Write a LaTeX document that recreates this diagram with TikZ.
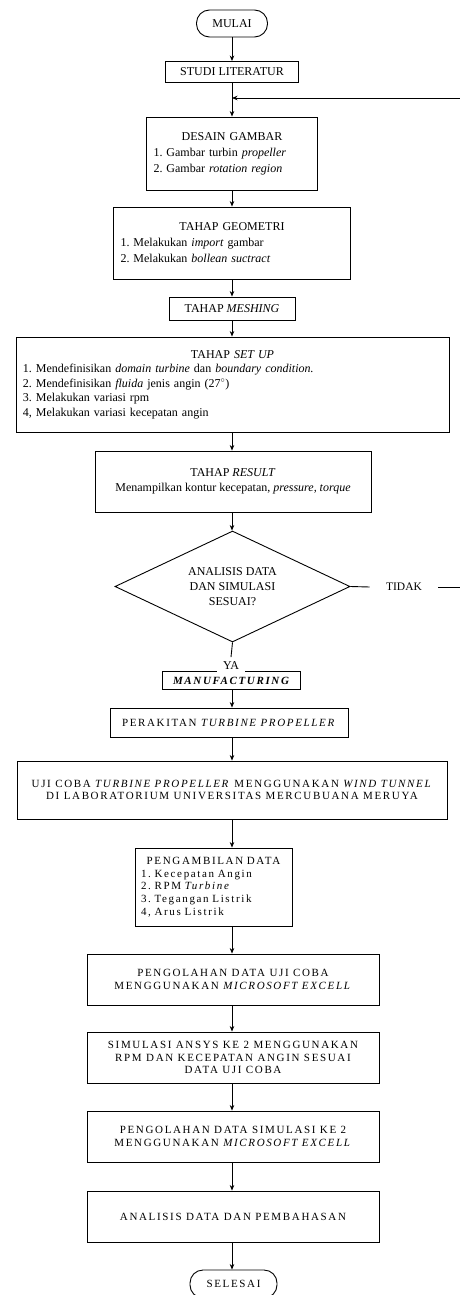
\documentclass[tikz,border=0pt]{standalone}
\usepackage{fontspec}
\setmainfont{Liberation Serif}
\newfontfamily\spacedfont[LetterSpace=15]{Liberation Serif}
\usetikzlibrary{shapes.geometric, arrows.meta, positioning}
\setlength{\parindent}{0pt}
\frenchspacing
\newcommand{\boxtitle}[1]{\hfill#1\hfill\null}

\begin{document}
\begin{tikzpicture}[
  x=1pt, y=-1pt, line width=0.9pt,
  proc/.style={draw, align=center, inner sep=3pt, font=\fontsize{12}{14.5}\selectfont},
  listbox/.style={proc, align=left, inner xsep=7pt, text width=#1},
  caps/.style={proc, font=\spacedfont\fontsize{11}{12.75}\selectfont},
  term/.style={draw, rounded corners=13pt, inner sep=2pt},
  cond/.style={draw, diamond, aspect=2.1, inner sep=0pt, align=center, font=\fontsize{12}{15}\selectfont},
  arr/.style={-{Stealth[length=5.5pt, width=4.5pt]}, line width=0.8pt},
]
  \useasboundingbox (0,0) rectangle (460,1295);
  \coordinate (flow) at (232, 0);

  % upper part: design and simulation
  \node[term, minimum width=71pt, minimum height=27pt, font=\fontsize{12}{14}\selectfont] (mulai) at (232, 23.5) {MULAI};
  \node[proc, minimum width=133pt, minimum height=21pt] (studi) at (232, 72) {STUDI LITERATUR};
  \node[listbox=157pt, minimum height=73pt, font=\fontsize{12}{16}\selectfont] (desain) at (232, 153.5) {
    \boxtitle{DESAIN GAMBAR}\\
    1. Gambar turbin \textit{propeller}\\
    2. Gambar \textit{rotation region}
  };
  \node[listbox=223pt, minimum height=72pt, font=\fontsize{12}{16}\selectfont] (geom) at (232, 243) {
    \boxtitle{TAHAP GEOMETRI}\\
    1. Melakukan \textit{import} gambar\\
    2. Melakukan \textit{bollean suctract}
  };
  \node[proc, minimum width=126pt, minimum height=23pt] (mesh) at (232, 308.5) {TAHAP \textit{MESHING}};
  \node[listbox=419pt, minimum height=95pt] (setup) at (232.5, 384.5) {
    \boxtitle{TAHAP \textit{SET UP}}\\
    1. Mendefinisikan \textit{domain turbine} dan \textit{boundary condition.}\\
    2. Mendefinisikan \textit{fluida} jenis angin (27$^{\circ}$)\\
    3. Melakukan variasi rpm\\
    4, Melakukan variasi kecepatan angin
  };
  \node[proc, minimum width=276pt, minimum height=61pt] (result) at (233, 481.5) {
    TAHAP \textit{RESULT}\\
    Menampilkan kontur kecepatan, \textit{pressure, torque}
  };
  \node[cond, minimum width=235pt, minimum height=111pt] (dec) at (232.5, 586.5) {ANALISIS DATA\\DAN SIMULASI\\SESUAI?};
  \node[inner xsep=16pt, font=\fontsize{11.5}{14}\selectfont] (tidak) at (404, 587) {TIDAK};

  % lower part: manufacturing and testing
  \node[caps, minimum width=138pt, minimum height=18pt, font=\spacedfont\fontsize{11}{12}\selectfont\bfseries\itshape] (manuf) at (231, 680.5) {MANUFACTURING};
  \node[fill=white, inner xsep=6pt, inner ysep=4pt, font=\fontsize{12}{14}\selectfont] (ya) at (231, 665.5) {YA};
  \node[caps, minimum width=238pt, minimum height=29pt] (rakit) at (229, 722.5) {PERAKITAN \textit{TURBINE PROPELLER}};
  \node[caps, minimum width=430pt, minimum height=58pt] (uji) at (232, 790) {
    UJI COBA \textit{TURBINE PROPELLER} MENGGUNAKAN \textit{WIND TUNNEL}\\
    DI LABORATORIUM UNIVERSITAS MERCUBUANA MERUYA
  };
  \node[listbox=145pt, inner xsep=6pt, minimum height=78pt, font=\spacedfont\fontsize{11}{12.75}\selectfont] (ambil) at (213.5, 887) {
    \boxtitle{PENGAMBILAN DATA}\\
    1. Kecepatan Angin\\
    2. RPM \textit{Turbine}\\
    3. Tegangan Listrik\\
    4, Arus Listrik
  };
  \node[caps, minimum width=292pt, minimum height=51pt] (olah) at (233, 979.5) {
    PENGOLAHAN DATA UJI COBA\\
    MENGGUNAKAN \textit{MICROSOFT EXCELL}
  };
  \node[caps, minimum width=292pt, minimum height=51pt] (sim) at (233, 1057.5) {
    SIMULASI ANSYS KE 2 MENGGUNAKAN\\
    RPM DAN KECEPATAN ANGIN SESUAI\\
    DATA UJI COBA
  };
  \node[caps, minimum width=292pt, minimum height=51pt] (olahsim) at (233, 1136.5) {
    PENGOLAHAN DATA SIMULASI KE 2\\
    MENGGUNAKAN \textit{MICROSOFT EXCELL}
  };
  \node[caps, minimum width=292pt, minimum height=51pt] (bahas) at (233, 1216.5) {ANALISIS DATA DAN PEMBAHASAN};
  \node[term, minimum width=87pt, minimum height=28pt, font=\spacedfont\fontsize{11}{12}\selectfont] (selesai) at (233.5, 1284) {SELESAI};

  % connectors
  \foreach \a/\b in {mulai/studi, studi/desain, desain/geom, geom/mesh, mesh/setup, setup/result, result/dec,
                     manuf/rakit, rakit/uji, uji/ambil, ambil/olah, olah/sim, sim/olahsim, olahsim/bahas, bahas/selesai}
    \draw[arr] (\a.south -| flow) -- (\b.north -| flow);
  \draw (dec.south) -- (ya.north);

  % loop back when not suitable
  \coordinate (join) at (232, 98);
  \coordinate (edge) at (464, 98);
  \draw (dec.east) -- (tidak.west);
  \draw[arr] (tidak.east) -- (tidak.east -| edge) -- (edge) -- (join);
\end{tikzpicture}
\end{document}
